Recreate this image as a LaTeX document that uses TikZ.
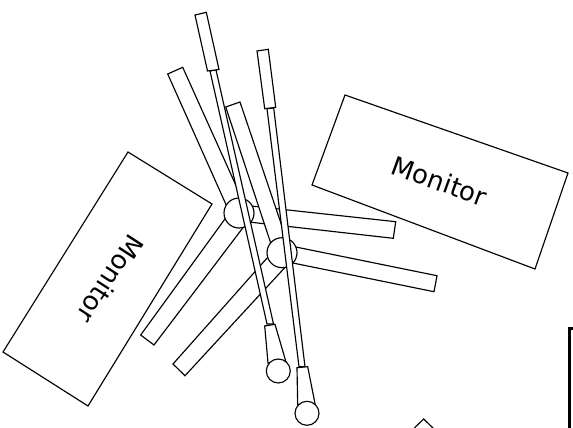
\documentclass[tikz,border=0pt]{standalone}
\usepackage{fontspec}
\setmainfont{DejaVu Sans}
\begin{document}
\begin{tikzpicture}[x=1pt,y=-1pt,
  part/.style={draw=black,fill=white,line width=1.15pt,line join=miter},
  label/.style={font=\fontsize{26}{29}\selectfont,inner sep=0pt},
  bar/.style={draw=black,line width=2.2pt}]
\useasboundingbox (0,0) rectangle (573,428);
% monitors
\draw[part] (128,152) -- (212,204) -- (88,406) -- (3,352) -- cycle;
\draw[part] (345,95) -- (568,173) -- (535,269) -- (312,185) -- cycle;
\node[label,rotate=-123] (monL) at (110.5,279) {Monitor};
\node[label,rotate=-20] (monR) at (439.5,181) {Monitor};
% arms of the first joint
\draw[part] (167.7,74) -- (182.7,67.3) -- (247,210) -- (232,218) -- cycle;
\draw[part] (140.7,335) -- (154,345) -- (245,225) -- (230,212) -- cycle;
\draw[part] (395.7,221.7) -- (393.3,238.3) -- (240,221) -- (242,205) -- cycle;
\draw[part] (239,213) circle (15);
% arms of the second joint
\draw[part] (225.7,107) -- (240,102) -- (290,250) -- (275,256) -- cycle;
\draw[part] (173,364) -- (185,375.7) -- (290,262) -- (276,248) -- cycle;
\draw[part] (437,275.7) -- (434,291.7) -- (278,260) -- (281,244) -- cycle;
\draw[part] (282,252.7) circle (15);
% long arm 1
\draw[part] (210,71) -- (216,70) -- (273.5,324) -- (267,324) -- cycle;
\draw[part] (195,15) -- (206.3,12.3) -- (219,69.5) -- (207.5,71) -- cycle;
\draw[part] (264.7,326) -- (275,324.3) -- (286,362) -- (268,363) -- cycle;
\draw[part] (278.3,371) circle (12);
% long arm 2
\draw[part] (267,108.7) -- (273.7,108) -- (305,366.7) -- (299,366.7) -- cycle;
\draw[part] (257,51) -- (268.3,49.3) -- (275.7,107.3) -- (264.7,108.7) -- cycle;
\draw[part] (297,367.7) -- (307.7,366.7) -- (315.3,405) -- (297.7,405) -- cycle;
\draw[part] (307,413.3) circle (12);
% cropped shapes at the lower edge
\draw[draw=black,line width=1.15pt] (414.3,428) -- (423.7,419) -- (433,428);
\draw[bar] (573,328.5) -- (569.5,328.5) -- (569.5,428);
\end{tikzpicture}
\end{document}
